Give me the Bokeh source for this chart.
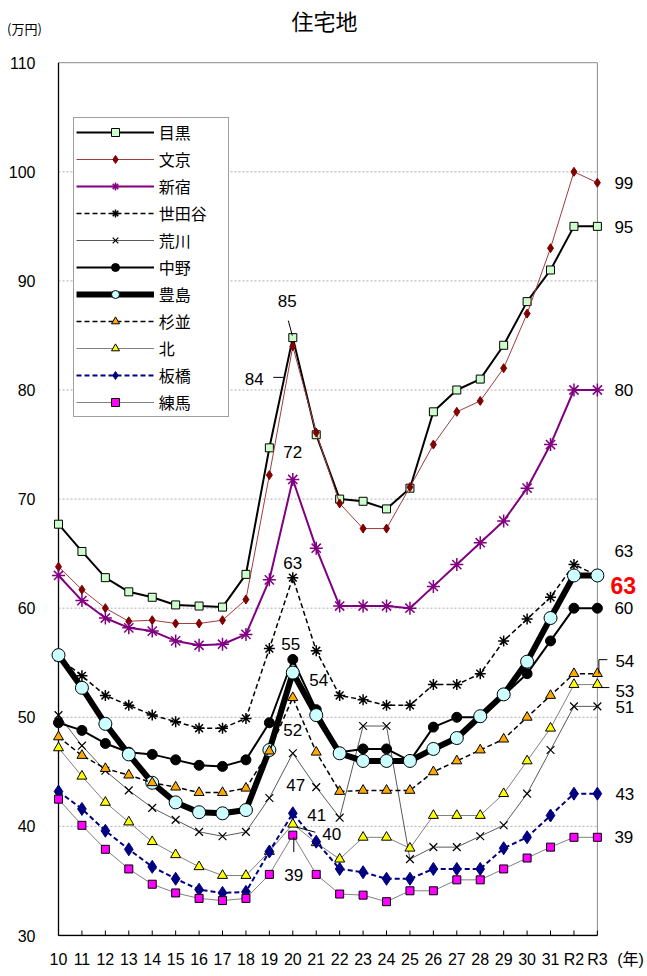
import numpy as np
from bokeh.plotting import figure
from bokeh.models import Range1d, FixedTicker, ColumnDataSource, Legend, LegendItem
from bokeh.core.properties import value
from bokeh.embed import file_html
from bokeh.resources import INLINE

# ---------------- data ----------------
years = ["10", "11", "12", "13", "14", "15", "16", "17", "18", "19", "20", "21",
         "22", "23", "24", "25", "26", "27", "28", "29", "30", "31", "R2", "R3"]
y_ticks = [30, 40, 50, 60, 70, 80, 90, 100, 110]
wards = ["目黒", "文京", "新宿", "世田谷", "荒川", "中野", "豊島", "杉並", "北", "板橋", "練馬"]
title_text = "住宅地"
y_unit = "(万円)"
x_unit = "(年)"

meguro = [67.7, 65.2, 62.8, 61.5, 61.0, 60.3, 60.2, 60.1, 63.1, 74.7, 84.8, 75.9,
          70.0, 69.8, 69.1, 71.0, 78.0, 80.0, 81.0, 84.1, 88.1, 91.0, 95.0, 95.0]
bunkyo = [63.8, 61.7, 60.0, 58.8, 58.9, 58.6, 58.6, 58.9, 60.8, 72.2, 84.0, 76.1,
          69.6, 67.3, 67.3, 71.1, 75.0, 78.0, 79.0, 82.0, 87.0, 93.0, 100.0, 99.0]
shinjuku = [63.0, 60.7, 59.1, 58.2, 57.9, 57.0, 56.6, 56.7, 57.6, 62.6, 71.8, 65.5,
            60.2, 60.2, 60.2, 60.0, 62.0, 64.0, 66.0, 68.0, 71.0, 75.0, 80.0, 80.0]
setagaya = [55.5, 53.8, 52.0, 51.1, 50.2, 49.6, 49.0, 49.0, 49.9, 56.3, 62.8, 56.1,
            52.0, 51.6, 51.1, 51.1, 53.0, 53.0, 54.0, 57.0, 59.0, 61.0, 64.0, 63.0]
arakawa = [50.2, 47.4, 45.1, 43.3, 41.7, 40.6, 39.5, 39.1, 39.5, 42.6, 46.7, 43.6,
           40.8, 49.2, 49.2, 37.0, 38.1, 38.1, 39.1, 40.1, 43.0, 47.0, 51.0, 51.0]
nakano = [49.5, 48.8, 47.6, 46.8, 46.6, 46.1, 45.6, 45.5, 46.1, 49.5, 55.3, 50.7,
          46.8, 47.1, 47.1, 46.0, 49.1, 50.0, 50.0, 52.0, 54.0, 57.0, 60.0, 60.0]
toshima = [55.7, 52.7, 49.4, 46.6, 44.0, 42.2, 41.3, 41.2, 41.5, 47.0, 54.1, 50.2,
           46.7, 46.0, 46.0, 46.0, 47.1, 48.1, 50.1, 52.1, 55.1, 59.1, 63.0, 63.0]
suginami = [48.2, 46.5, 45.3, 44.7, 44.0, 43.6, 43.1, 43.1, 43.5, 46.9, 51.8, 46.8,
            43.2, 43.3, 43.3, 43.3, 45.0, 46.0, 47.0, 48.0, 50.0, 52.0, 54.0, 54.0]
kita = [47.2, 44.6, 42.2, 40.4, 38.6, 37.4, 36.3, 35.5, 35.5, 37.7, 40.2, 38.5,
        37.0, 39.0, 39.0, 38.0, 41.0, 41.0, 41.0, 43.0, 46.0, 49.0, 53.0, 53.0]
itabashi = [43.2, 41.6, 39.6, 37.9, 36.3, 35.2, 34.2, 33.9, 34.0, 37.7, 41.2, 38.6,
            36.1, 35.8, 35.2, 35.2, 36.1, 36.1, 36.1, 38.0, 39.0, 41.0, 43.0, 43.0]
nerima = [42.5, 40.1, 37.9, 36.1, 34.7, 33.9, 33.4, 33.2, 33.4, 35.6, 39.2, 35.6,
          33.8, 33.7, 33.1, 34.1, 34.1, 35.1, 35.1, 36.1, 37.1, 38.1, 39.0, 39.0]

series = [meguro, bunkyo, shinjuku, setagaya, arakawa, nakano, toshima,
          suginami, kita, itabashi, nerima]

# ---------------- styles ----------------
styles = [
    dict(lc="black", lw=2, dash="solid", mk="square", sz=8, fc="#ccffcc", ml="black", mw=1),
    dict(lc="#a03c3c", lw=1, dash="solid", mk="diamond", sz=9, fc="#800000", ml="#800000", mw=1),
    dict(lc="#800080", lw=2, dash="solid", mk="asterisk", sz=13, fc="#800080", ml="#800080", mw=1.5),
    dict(lc="black", lw=1.5, dash="5 3", mk="asterisk", sz=11, fc="black", ml="black", mw=1.5),
    dict(lc="#303030", lw=0.8, dash="solid", mk="x", sz=11, fc="black", ml="black", mw=1.2),
    dict(lc="black", lw=2, dash="solid", mk="circle", sz=10, fc="black", ml="black", mw=1),
    dict(lc="black", lw=6, dash="solid", mk="circle", sz=13, fc="#ccffff", ml="black", mw=1),
    dict(lc="black", lw=1.5, dash="5 3", mk="triangle", sz=10, fc="#ffaa00", ml="black", mw=1),
    dict(lc="#808080", lw=1, dash="solid", mk="triangle", sz=10, fc="#ffff00", ml="black", mw=1),
    dict(lc="#000080", lw=2, dash="5 3", mk="diamond", sz=13, fc="#000080", ml="#000080", mw=1),
    dict(lc="#808080", lw=1, dash="solid", mk="square", sz=8, fc="#ff00ff", ml="black", mw=1),
]

# label offsets (pixels) for the year-20 labels and the R3 labels
i20 = years.index("20")
iend = len(years) - 1
off20 = [(-5.5, -37), (-38.5, 33), (0, -27), (0, -15), (3, 32), (-2, -15),
         (26, 7), (0, 32), (39, 10), (24, 2), (1, 40)]
offend = [(17, 1), (17, 0), (17, 0), (17, -24), (18, 1), (17, 0),
          (13, 10), (18, -13), (18, 6), (18, 0), (17, 0)]

NUM_FONT = "Liberation Sans"
JP_FONT = "Noto Sans CJK JP"
MIX_FONT = "Liberation Sans, Noto Sans CJK JP"

# ---------------- geometry ----------------
W, H = 647, 976
BL, BB = 2, 40
ux = 23.43          # px per category
uy = 10.91          # px per 10k yen
X0 = -(58 - BL) / ux
X1 = X0 + (W - BL) / ux
Y0 = y_ticks[0] - 1.0 / uy
Y1 = Y0 + (H - BB) / uy


def px2x(px):
    return X0 + (px - BL) / ux


def py2y(py):
    return Y1 - py / uy


p = figure(width=W, height=H, output_backend="svg", toolbar_location=None, title=None,
           x_range=Range1d(X0, X1), y_range=Range1d(Y0, Y1),
           min_border_left=BL, min_border_right=0, min_border_top=0, min_border_bottom=BB)
p.outline_line_color = None
p.background_fill_color = "white"
p.border_fill_color = "white"
p.xgrid.visible = False
p.ygrid.visible = False

xs = list(range(len(years)))

# x axis: category labels plus the unit label
x_unit_pos = round(px2x(630), 3)
p.xaxis.ticker = FixedTicker(ticks=xs + [x_unit_pos])
ovx = {i: t for i, t in enumerate(years)}
ovx[x_unit_pos] = x_unit
p.xaxis.major_label_overrides = ovx
p.xaxis.axis_line_color = None
p.xaxis.major_tick_line_color = None
p.xaxis.minor_tick_line_color = None
p.xaxis.major_label_standoff = 8
p.xaxis.major_label_text_font = MIX_FONT
p.xaxis.major_label_text_font_size = "16px"
p.xaxis.major_label_text_color = "black"

# y axis: labels right-aligned at x=40 px of the canvas
p.yaxis.ticker = FixedTicker(ticks=y_ticks)
p.yaxis.axis_line_color = None
p.yaxis.major_tick_line_color = None
p.yaxis.minor_tick_line_color = None
p.yaxis.major_label_standoff = BL - 41
p.yaxis.major_label_text_font = NUM_FONT
p.yaxis.major_label_text_font_size = "16px"
p.yaxis.major_label_text_color = "black"

# grid, frame lines, tick marks within the category span
gy = y_ticks[1:-1]
p.segment(x0=[xs[0]] * len(gy), x1=[xs[-1]] * len(gy), y0=gy, y1=gy,
          line_color="#9a9a9a", line_width=0.8, line_dash="2 2")
p.segment(x0=[xs[0], xs[-1]], x1=[xs[-1], xs[-1]], y0=[y_ticks[-1], y_ticks[0]],
          y1=[y_ticks[-1], y_ticks[-1]], line_color="#8a8a8a", line_width=1)
p.segment(x0=xs, x1=xs, y0=[y_ticks[0]] * len(xs), y1=[y_ticks[0] + 5 / uy] * len(xs),
          line_color="black", line_width=1)
p.segment(x0=[xs[0], xs[0]], x1=[xs[0], xs[-1]], y0=[y_ticks[0], y_ticks[0]],
          y1=[y_ticks[-1], y_ticks[0]], line_color="black", line_width=1.3)

# title and y unit (inside the extended frame)
p.text(x=[px2x(324)], y=[py2y(19)], text=[title_text], text_align="center",
       text_baseline="middle", text_font=value(JP_FONT), text_font_size="22px",
       text_color="black")
p.text(x=[px2x(24)], y=[py2y(28)], text=[y_unit], text_align="center",
       text_baseline="middle", text_font=value(JP_FONT), text_font_size="13px",
       text_color="black")

# series
items = []
for name, vals, st in zip(wards, series, styles):
    src = ColumnDataSource(dict(x=xs, y=vals))
    r1 = p.line("x", "y", source=src, line_color=st["lc"], line_width=st["lw"],
                line_dash=st["dash"], line_join="round")
    r2 = p.scatter("x", "y", source=src, marker=st["mk"], size=st["sz"],
                   fill_color=st["fc"], line_color=st["ml"], line_width=st["mw"])
    items.append(LegendItem(label=name, renderers=[r1, r2]))

# value labels at year 20
lab_src = ColumnDataSource(dict(
    x=[i20] * len(series), y=[s[i20] for s in series],
    t=[str(int(round(s[i20]))) for s in series],
    dx=[o[0] for o in off20], dy=[o[1] for o in off20]))
p.text("x", "y", text="t", source=lab_src, x_offset="dx", y_offset="dy",
       text_align="center", text_baseline="middle", text_font=value(NUM_FONT),
       text_font_size="17px", text_color="black")

# value labels at R3
end_src = ColumnDataSource(dict(
    x=[iend] * len(series), y=[s[iend] for s in series],
    t=[str(int(round(s[iend]))) for s in series],
    dx=[o[0] for o in offend], dy=[o[1] for o in offend],
    c=["red" if n == "豊島" else "black" for n in wards],
    fs=["23px" if n == "豊島" else "17px" for n in wards],
    fst=["bold" if n == "豊島" else "normal" for n in wards]))
p.text("x", "y", text="t", source=end_src, x_offset="dx", y_offset="dy",
       text_align="left", text_baseline="middle", text_font=value(NUM_FONT),
       text_font_size="fs", text_color="c", text_font_style="fst")


# leader lines (pixel offsets converted into data units)
def lead(ix, yv, a, b):
    return (ix + a[0] / ux, yv - a[1] / uy, ix + b[0] / ux, yv - b[1] / uy)


leads = [
    lead(i20, meguro[i20], (-4.5, -17), (-0.5, -2)),
    lead(i20, bunkyo[i20], (-19.5, 31), (-9.5, 31)),
    lead(i20, kita[i20], (4, 3), (22.5, 8)),
    lead(i20, nerima[i20], (1, 2), (1, 17)),
    lead(iend, suginami[iend], (1.5, 0), (1.5, -14)),
    lead(iend, suginami[iend], (1.5, -14), (10, -14)),
    lead(iend, kita[iend], (1.5, 3), (12, 3)),
]
p.segment(x0=[l[0] for l in leads], y0=[l[1] for l in leads],
          x1=[l[2] for l in leads], y1=[l[3] for l in leads],
          line_color="black", line_width=1)

# legend
legend = Legend(items=items, location=(72.7 - BL, (H - BB) - 417), padding=2, spacing=3,
                glyph_height=20, label_height=24, glyph_width=78, label_standoff=5,
                label_width=67, margin=0, border_line_color="#404040", border_line_width=1,
                background_fill_color="white", background_fill_alpha=1,
                label_text_font=JP_FONT, label_text_font_size="16px", label_text_color="black")
p.add_layout(legend)

open("out.html", "w").write(file_html(p, INLINE))
